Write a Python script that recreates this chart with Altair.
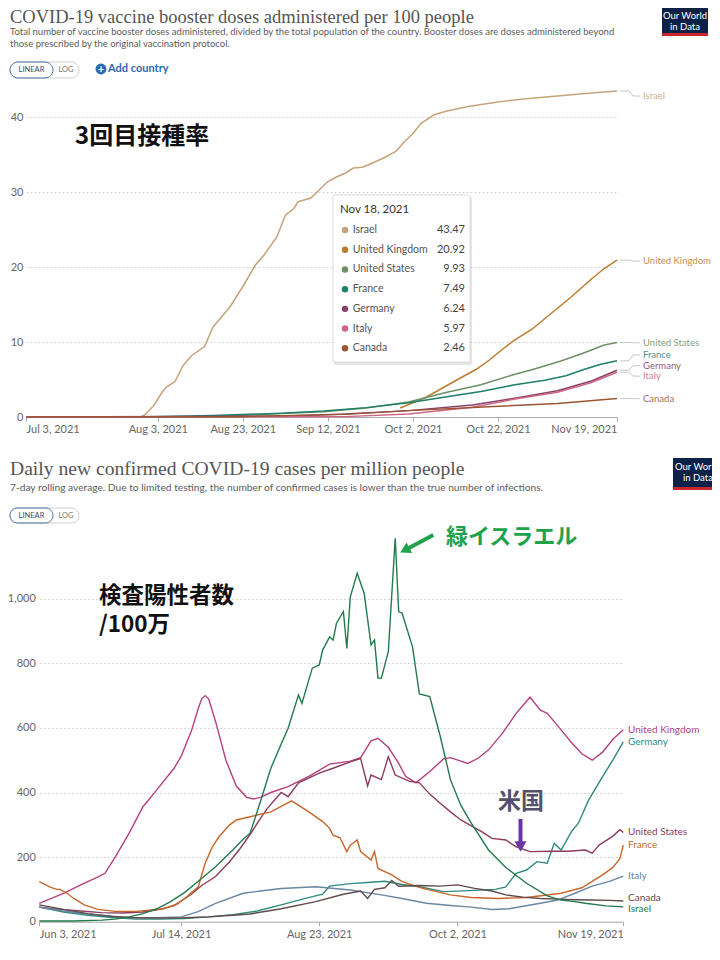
import altair as alt
import pandas as pd

W, H = 704, 940

# ---------------- chart 1: booster doses per 100 people ----------------
# x = days after Jul 3, 2021
top_start = pd.Timestamp("2021-07-03")
countries_top = ["Israel", "United Kingdom", "United States", "France", "Germany", "Italy", "Canada"]
colors_top = ["#c4a47c", "#bf7b2f", "#6f8f64", "#1e7f6a", "#87406a", "#cf6683", "#9b5533"]

isr_b_days = [0, 27, 28, 30, 32, 33, 35, 37, 39, 42, 44, 48, 51, 54, 56, 59, 61, 63, 64, 67,
              69, 71, 73, 75, 77, 79, 80, 84, 87, 89, 91, 93, 96, 99, 104, 111, 117, 125, 133, 139]
isr_b_vals = [0, 0, 0.3, 1.5, 3.3, 4.0, 4.7, 6.9, 8.2, 9.4, 12.0, 14.7, 17.4, 20.3, 21.6, 24.0, 26.9, 27.8, 28.7, 29.2,
              30.3, 31.4, 32.0, 32.5, 33.2, 33.3, 33.5, 34.5, 35.4, 36.7, 37.8, 39.2, 40.3, 40.8, 41.4, 42.0, 42.4, 42.8, 43.2, 43.47]
uk_b_days = [88, 94, 99, 106, 109, 112, 115, 119, 125, 128, 133, 136, 139]
uk_b_vals = [1.2, 2.6, 4.2, 6.4, 7.6, 9.0, 10.3, 11.7, 14.5, 15.9, 18.4, 19.8, 20.92]
us_b_days = [0, 40, 50, 60, 70, 80, 90, 99, 107, 115, 119, 126, 131, 136, 139]
us_b_vals = [0, 0.02, 0.2, 0.45, 0.7, 1.2, 2.0, 3.3, 4.3, 5.7, 6.3, 7.5, 8.5, 9.6, 9.93]
fr_b_days = [0, 29, 44, 60, 70, 80, 90, 99, 107, 115, 122, 127, 131, 135, 139]
fr_b_vals = [0, 0.05, 0.2, 0.5, 0.8, 1.25, 1.9, 2.7, 3.4, 4.3, 4.9, 5.5, 6.3, 7.0, 7.49]
de_b_days = [0, 60, 75, 90, 105, 115, 125, 133, 139]
de_b_vals = [0, 0.1, 0.4, 0.85, 1.6, 2.5, 3.5, 4.8, 6.24]
it_b_days = [0, 75, 90, 105, 115, 125, 133, 139]
it_b_vals = [0, 0.05, 0.4, 1.3, 2.4, 3.3, 4.6, 5.97]
ca_b_days = [0, 50, 75, 90, 110, 125, 139]
ca_b_vals = [0, 0.05, 0.35, 0.85, 1.4, 1.8, 2.46]

top_label_at = [42.8, 20.8, 9.9, 8.27, 6.84, 5.45, 2.44]
tip_date = "Nov 18, 2021"
tip_values = [43.47, 20.92, 9.93, 7.49, 6.24, 5.97, 2.46]

# ---------------- chart 2: daily new cases per million ----------------
# x = days after Jun 3, 2021
bot_start = pd.Timestamp("2021-06-03")
countries_bot = ["United Kingdom", "Germany", "United States", "France", "Italy", "Canada", "Israel"]
colors_bot = ["#b5407f", "#2e8b7f", "#8c3d5d", "#c7672b", "#6a86a2", "#5f4b4b", "#237a4d"]

uk_c_days = [0, 7, 12, 17, 19, 22, 26, 30, 34, 39, 41, 44, 46, 47, 48, 49, 51, 54, 57, 60,
             62, 64, 67, 72, 78, 84, 90, 93, 96, 98, 101, 104, 106, 109, 113, 117, 119, 124, 127, 130,
             134, 138, 142, 145, 147, 151, 154, 157, 160, 163, 166, 169]
uk_c_vals = [57, 88, 114, 139, 150, 201, 274, 356, 408, 475, 511, 590, 660, 690, 700, 690, 620, 500, 420, 385,
             380, 385, 400, 418, 450, 488, 497, 508, 560, 568, 540, 490, 450, 430, 465, 504, 508, 490, 506, 532,
             583, 645, 695, 655, 645, 594, 555, 520, 500, 525, 565, 594]
de_c_days = [0, 7, 14, 21, 28, 35, 42, 49, 56, 63, 70, 77, 82, 84, 90, 96, 100, 105, 110, 117,
             126, 132, 135, 138, 141, 144, 147, 149, 151, 154, 156, 159, 163, 166, 169]
de_c_vals = [45, 30, 20, 13, 8, 8, 10, 15, 22, 33, 52, 72, 85, 110, 118, 122, 125, 115, 108, 93,
             97, 100, 108, 150, 160, 186, 181, 243, 222, 279, 305, 377, 449, 501, 557]
us_c_days = [0, 6, 12, 18, 24, 30, 35, 39, 44, 47, 51, 55, 58, 61, 64, 66, 70, 72, 75, 81,
             85, 90, 93, 95, 96, 99, 101, 103, 107, 110, 113, 116, 119, 122, 125, 128, 131, 135, 138, 142,
             148, 153, 158, 160, 162, 166, 168, 169]
us_c_vals = [45, 38, 33, 28, 27, 30, 38, 50, 85, 112, 140, 185, 225, 270, 320, 351, 400, 387, 430, 460,
             475, 495, 505, 420, 454, 440, 511, 454, 435, 430, 395, 367, 340, 315, 297, 279, 258, 253, 232, 217,
             218, 218, 222, 212, 237, 265, 285, 276]
fr_c_days = [0, 3, 5, 6, 8, 10, 13, 17, 22, 28, 36, 40, 43, 46, 48, 50, 52, 55, 57, 61,
             67, 73, 78, 82, 84, 85, 87, 89, 90, 92, 93, 96, 97, 98, 102, 105, 111, 119, 125, 133,
             141, 151, 157, 160, 163, 166, 168, 169]
fr_c_vals = [124, 108, 100, 100, 88, 72, 52, 38, 32, 32, 40, 55, 80, 108, 181, 230, 263, 299, 315, 325,
             340, 374, 340, 310, 289, 268, 260, 217, 237, 253, 217, 191, 217, 165, 145, 124, 103, 83, 75, 72,
             75, 88, 105, 125, 145, 168, 195, 237]
it_c_days = [0, 7, 14, 20, 26, 34, 41, 46, 51, 59, 64, 70, 80, 90, 99, 105, 112, 119, 125, 131,
             136, 140, 145, 150, 155, 160, 165, 169]
it_c_vals = [45, 33, 24, 18, 13, 12, 15, 31, 57, 88, 95, 103, 108, 98, 83, 72, 57, 50, 45, 38,
             40, 48, 57, 67, 88, 110, 125, 141]
ca_c_days = [0, 7, 14, 21, 28, 35, 42, 49, 56, 61, 70, 80, 88, 93, 95, 97, 100, 102, 104, 110,
             116, 121, 126, 131, 135, 140, 145, 150, 155, 160, 165, 169]
ca_c_vals = [52, 38, 25, 16, 12, 11, 12, 15, 20, 24, 40, 62, 85, 95, 72, 100, 105, 128, 110, 112,
             110, 114, 103, 95, 83, 76, 72, 70, 68, 67, 66, 64]
isr_c_days = [0, 10, 18, 22, 26, 30, 34, 38, 42, 46, 51, 56, 59, 61, 64, 67, 70, 72, 75, 76,
              79, 81, 82, 84, 85, 86, 88, 89, 90, 92, 94, 96, 97, 98, 99, 101, 103, 104, 105, 108,
              110, 113, 116, 119, 122, 125, 130, 135, 141, 147, 151, 155, 158, 164, 169]
isr_c_vals = [2, 2, 5, 8, 15, 25, 40, 62, 90, 125, 170, 222, 255, 274, 372, 475, 550, 599, 702, 676,
              785, 795, 841, 882, 872, 924, 960, 846, 1006, 1079, 1017, 857, 872, 754, 754, 836, 1187, 960, 955, 851,
              705, 697, 575, 439, 360, 305, 222, 168, 119, 80, 67, 62, 57, 49, 46]

bot_label_at = [593, 556, 279, 237, 141, 73, 39]


def long_frame(start, series):
    rows = []
    for name, days, vals in series:
        for d, v in zip(days, vals):
            rows.append({"country": name, "date": start + pd.Timedelta(days=d), "value": v})
    return pd.DataFrame(rows)


top_df = long_frame(top_start, [
    ("Israel", isr_b_days, isr_b_vals), ("United Kingdom", uk_b_days, uk_b_vals),
    ("United States", us_b_days, us_b_vals), ("France", fr_b_days, fr_b_vals),
    ("Germany", de_b_days, de_b_vals), ("Italy", it_b_days, it_b_vals), ("Canada", ca_b_days, ca_b_vals)])
bot_df = long_frame(bot_start, [
    ("United Kingdom", uk_c_days, uk_c_vals), ("Germany", de_c_days, de_c_vals),
    ("United States", us_c_days, us_c_vals), ("France", fr_c_days, fr_c_vals),
    ("Italy", it_c_days, it_c_vals), ("Canada", ca_c_days, ca_c_vals), ("Israel", isr_c_days, isr_c_vals)])

top_end = [isr_b_vals[-1], uk_b_vals[-1], us_b_vals[-1], fr_b_vals[-1], de_b_vals[-1], it_b_vals[-1], ca_b_vals[-1]]
top_lab_df = pd.DataFrame({"country": countries_top, "end": top_end, "lbl": top_label_at})
bot_lab_df = pd.DataFrame({"country": countries_bot, "lbl": bot_label_at})
tip_df = pd.DataFrame({"country": countries_top, "val": tip_values})


def dt(m, d):
    return alt.DateTime(year=2021, month=m, date=d)


common_axis = dict(labelFont="Lato", labelFontSize=11, labelColor="#666", title=None)

# ---- panel 1 scales (group px = page px - 8) ----
top_x = alt.Scale(domain=[dt(7, 3), dt(11, 19)], range=[18, 609])
top_y = alt.Scale(domain=[0, 44], range=[409, 79], nice=False, zero=False)
top_c = alt.Scale(domain=countries_top, range=colors_top)
top_x_axis = alt.Axis(
    orient="bottom", offset=409 - H,
    values=[dt(7, 3), dt(8, 3), dt(8, 23), dt(9, 12), dt(10, 2), dt(10, 22), dt(11, 19)],
    format="%b %-d, %Y", labelFlush=True, labelOverlap=False, grid=False,
    domainColor="#aaa", tickColor="#aaa", tickSize=4, labelPadding=2, **common_axis)
top_y_axis = alt.Axis(
    orient="left", offset=-18, values=[0, 10, 20, 30, 40], format=".0f", grid=True, gridColor="#d4d4d4",
    gridDash=[2, 2], domain=False, ticks=False, labelPadding=3, **common_axis)

top_lines = alt.Chart(top_df).mark_line(strokeWidth=1.5).encode(
    x=alt.X("date:T", scale=top_x, axis=top_x_axis),
    y=alt.Y("value:Q", scale=top_y, axis=top_y_axis),
    color=alt.Color("country:N", scale=top_c, legend=None),
)
conn1 = alt.Chart(top_lab_df).mark_rule(color="#c8c8c8", strokeWidth=1).encode(
    x=alt.value(612), x2=alt.value(621), y=alt.Y("end:Q", scale=top_y, axis=top_y_axis))
conn2 = alt.Chart(top_lab_df).mark_rule(color="#c8c8c8", strokeWidth=1).encode(
    x=alt.value(621), x2=alt.value(625), y=alt.Y("end:Q", scale=top_y, axis=top_y_axis), y2="lbl:Q")
conn3 = alt.Chart(top_lab_df).mark_rule(color="#c8c8c8", strokeWidth=1).encode(
    x=alt.value(625), x2=alt.value(632), y=alt.Y("lbl:Q", scale=top_y, axis=top_y_axis))
top_labels = alt.Chart(top_lab_df).mark_text(align="left", baseline="middle", font="Lato", fontSize=9.5,
                                             opacity=0.85).encode(
    x=alt.value(635), y=alt.Y("lbl:Q", scale=top_y, axis=top_y_axis), text="country:N",
    color=alt.Color("country:N", scale=top_c, legend=None))
top_panel = alt.layer(top_lines, conn1, conn2, conn3, top_labels)

# ---- panel 2 scales ----
bot_x = alt.Scale(domain=[dt(6, 3), dt(11, 19)], range=[31.3, 615.3])
bot_y = alt.Scale(domain=[0, 1200], range=[913.7, 526.1], nice=False, zero=False)
bot_c = alt.Scale(domain=countries_bot, range=colors_bot)
bot_x_axis = alt.Axis(
    orient="bottom", offset=913.7 - H,
    values=[dt(6, 3), dt(7, 14), dt(8, 23), dt(10, 2), dt(11, 19)],
    format="%b %-d, %Y", labelFlush=True, labelOverlap=False, grid=False,
    domainColor="#aaa", tickColor="#aaa", tickSize=4, labelPadding=3, **common_axis)
bot_y_axis = alt.Axis(
    orient="left", offset=-31.3, values=[0, 200, 400, 600, 800, 1000], format=",.0f", grid=True,
    gridColor="#d4d4d4", gridDash=[2, 2], domain=False, ticks=False, labelPadding=4, **common_axis)

bot_lines = alt.Chart(bot_df).mark_line(strokeWidth=1.4).encode(
    x=alt.X("date:T", scale=bot_x, axis=bot_x_axis),
    y=alt.Y("value:Q", scale=bot_y, axis=bot_y_axis),
    color=alt.Color("country:N", scale=bot_c, legend=None),
)
bot_labels = alt.Chart(bot_lab_df).mark_text(align="left", baseline="middle", font="Lato", fontSize=10).encode(
    x=alt.value(620), y=alt.Y("lbl:Q", scale=bot_y, axis=bot_y_axis), text="country:N",
    color=alt.Color("country:N", scale=bot_c, legend=None))
bot_panel = alt.layer(bot_lines, bot_labels)

# ---- decorations ----
one = pd.DataFrame({"k": [0]})


def txt(s, x, y, size, color, font="Lato", weight="normal", align="left", baseline="alphabetic", clip=False):
    return alt.Chart(one).mark_text(text=s, font=font, fontSize=size, fontWeight=weight, color=color,
                                    align=align, baseline=baseline, clip=clip).encode(
        x=alt.value(x), y=alt.value(y))


def rect(x, x2, y, y2, fill, stroke=None, radius=0, fill_opacity=1, opacity=1):
    kw = dict(fill=fill, cornerRadius=radius, fillOpacity=fill_opacity, opacity=opacity)
    if stroke:
        kw.update(stroke=stroke, strokeWidth=1)
    return alt.Chart(one).mark_rect(**kw).encode(
        x=alt.value(x), x2=alt.value(x2), y=alt.value(y), y2=alt.value(y2))


def seg(x, y, x2, y2, color, w):
    return alt.Chart(one).mark_rule(color=color, strokeWidth=w).encode(
        x=alt.value(x), y=alt.value(y), x2=alt.value(x2), y2=alt.value(y2))


def head(x, y, angle, color, size=144):
    return alt.Chart(one).mark_point(shape="triangle", angle=angle, size=size, filled=True,
                                     color=color, opacity=1).encode(x=alt.value(x), y=alt.value(y))


tip_y = alt.Scale(type="point", domain=countries_top, range=[222, 340.3], padding=0)
tip_panel = alt.layer(
    rect(326, 464, 189, 357, "#000000", opacity=0.10, radius=2),
    rect(325, 462, 187, 354, "#ffffff", stroke="#dcdcdc", radius=2),
    txt(tip_date, 332, 202, 11.5, "#333", baseline="middle"),
    alt.Chart(tip_df).mark_point(filled=True, size=42, opacity=1).encode(
        x=alt.value(337), y=alt.Y("country:N", scale=tip_y, axis=None),
        color=alt.Color("country:N", scale=top_c, legend=None)),
    alt.Chart(tip_df).mark_text(align="left", baseline="middle", font="Lato", fontSize=10.5, color="#555").encode(
        x=alt.value(344.7), y=alt.Y("country:N", scale=tip_y, axis=None), text="country:N"),
    alt.Chart(tip_df).mark_text(align="right", baseline="middle", font="Lato", fontSize=11, color="#444").encode(
        x=alt.value(457), y=alt.Y("country:N", scale=tip_y, axis=None), text=alt.Text("val:Q", format=".2f")),
)

serif = "Liberation Serif"
deco = alt.layer(
    # chart 1 header
    txt("COVID-19 vaccine booster doses administered per 100 people", 2, 15, 18.5, "#555", font=serif),
    txt("Total number of vaccine booster doses administered, divided by the total population of the country. "
        "Booster doses are doses administered beyond", 2, 26.5, 9.5, "#5b5b5b"),
    txt("those prescribed by the original vaccination protocol.", 2, 38.5, 9.5, "#5b5b5b"),
    rect(2, 71, 54, 70, "#ffffff", stroke="#cfcfcf", radius=8),
    rect(2, 45, 54, 70, "#ffffff", stroke="#4f77a3", radius=8, fill_opacity=0),
    txt("LINEAR", 23.5, 62, 7.5, "#2f4f72", align="center", baseline="middle"),
    txt("LOG", 58, 62, 7.5, "#777", align="center", baseline="middle"),
    alt.Chart(one).mark_point(shape="circle", filled=True, size=120, color="#2e68b0", opacity=1).encode(
        x=alt.value(93), y=alt.value(61)),
    txt("+", 93, 61.5, 11, "#ffffff", weight="bold", align="center", baseline="middle"),
    txt("Add country", 100, 61, 11, "#2e68b0", weight="bold", baseline="middle"),
    rect(654, 700, 0, 25, "#0b2148"),
    rect(654, 700, 25, 28, "#c8262c"),
    txt("Our World", 677, 8, 9.5, "#ffffff", align="center", baseline="middle"),
    txt("in Data", 677, 18.5, 9.5, "#ffffff", align="center", baseline="middle"),
    txt("3回目接種率", 67, 129, 24, "#111111", font="Noto Sans CJK JP", weight="bold", baseline="middle"),
    # chart 2 header
    txt("Daily new confirmed COVID-19 cases per million people", 2, 467, 19.6, "#555", font=serif),
    txt("7-day rolling average. Due to limited testing, the number of confirmed cases is lower than the true "
        "number of infections.", 2, 482.5, 10.2, "#5b5b5b"),
    rect(2, 71, 500, 515, "#ffffff", stroke="#cfcfcf", radius=8),
    rect(2, 45, 500, 515, "#ffffff", stroke="#4f77a3", radius=8, fill_opacity=0),
    txt("LINEAR", 23.5, 507.5, 7.5, "#2f4f72", align="center", baseline="middle"),
    txt("LOG", 58, 507.5, 7.5, "#777", align="center", baseline="middle"),
    rect(665, 712, 450, 479, "#0b2148"),
    rect(665, 712, 479, 482, "#c8262c"),
    txt("Our World", 667, 459, 9.5, "#ffffff", baseline="middle", clip=True),
    txt("in Data", 675, 470, 9.5, "#ffffff", baseline="middle", clip=True),
    txt("検査陽性者数", 91, 588, 22.5, "#111111", font="Noto Sans CJK JP", weight="bold", baseline="middle"),
    txt("/100万", 91, 617, 22.5, "#111111", font="Noto Sans CJK JP", weight="bold", baseline="middle"),
    txt("緑イスラエル", 438, 529, 22, "#1fa24c", font="Noto Sans CJK JP", weight="bold", baseline="middle"),
    seg(425.3, 527, 399.5, 540.7, "#1fa24c", 4),
    head(398.3, 541.3, 242, "#1fa24c"),
    txt("米国", 513, 794, 23, "#55506a", font="Noto Sans CJK JP", weight="bold", align="center",
        baseline="middle"),
    seg(512.5, 811, 512.5, 835, "#6c35a5", 4),
    head(512.5, 836.8, 180, "#6c35a5"),
)

chart = alt.layer(top_panel, bot_panel, tip_panel, deco).resolve_scale(
    x="independent", y="independent", color="independent"
).properties(
    width=W, height=H, autosize=alt.AutoSizeParams(type="none"), padding=0, background="white"
).configure_view(stroke=None)

chart.save("out.html", embed_options={"renderer": "svg", "actions": False})
